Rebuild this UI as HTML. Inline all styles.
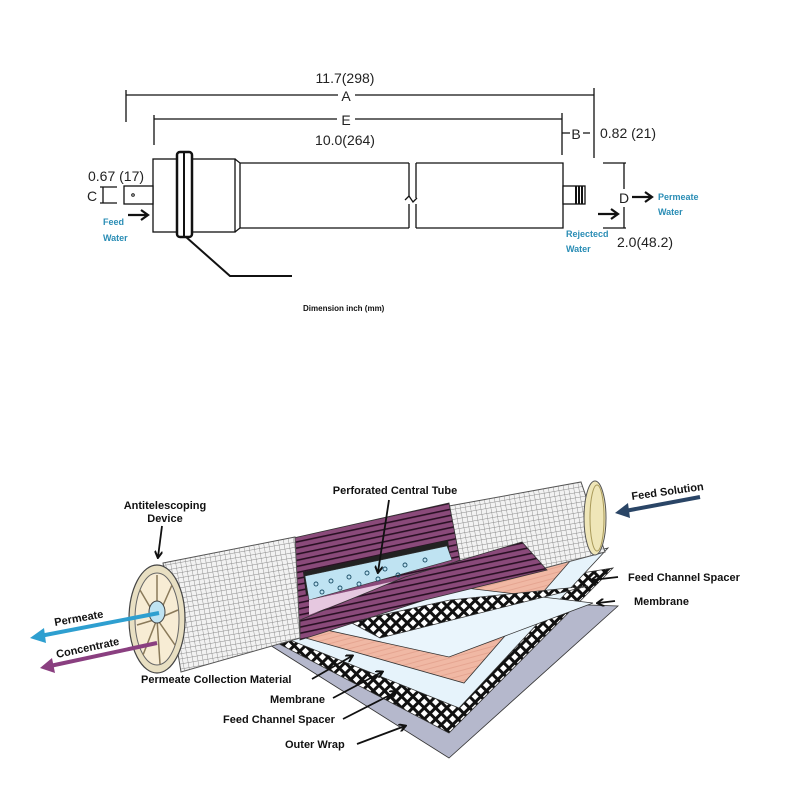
<!DOCTYPE html>
<html><head><meta charset="utf-8"><style>
html,body{margin:0;padding:0;background:#fff;}
svg{display:block;}
text{font-family:"Liberation Sans",sans-serif;}
.b{font-weight:bold;font-size:11px;fill:#111;}
.d{font-size:14px;fill:#222;}
.c{font-weight:bold;font-size:9px;fill:#2a8db5;}
</style></head><body>
<svg width="800" height="800" viewBox="0 0 800 800" xmlns="http://www.w3.org/2000/svg">
<defs>
<pattern id="grid" width="5" height="5" patternUnits="userSpaceOnUse" patternTransform="rotate(-10)">
<rect width="5" height="5" fill="#f2f2f2"/><path d="M0 0H5M0 0V5" stroke="#8a8a8a" stroke-width="0.9"/></pattern>
<pattern id="mesh" width="8" height="8" patternUnits="userSpaceOnUse" patternTransform="rotate(45)">
<rect width="8" height="8" fill="#111"/><rect x="2" y="2" width="5" height="5" fill="#fff"/></pattern>
<pattern id="purp" width="6" height="6" patternUnits="userSpaceOnUse" patternTransform="rotate(-12)">
<rect width="6" height="6" fill="#8a4a7a"/><rect y="3" width="6" height="1.6" fill="#2a1024"/></pattern>
<pattern id="pink" width="5" height="5" patternUnits="userSpaceOnUse" patternTransform="rotate(-15)">
<rect width="5" height="5" fill="#f0b8a4"/><path d="M0 2H5" stroke="#e3a08c" stroke-width="0.8"/></pattern>
<marker id="ah" markerWidth="8" markerHeight="8" refX="6" refY="4" orient="auto" markerUnits="userSpaceOnUse"><path d="M0 0L7 4L0 8" fill="none" stroke="#111" stroke-width="2"/></marker>
</defs>

<!-- ===== Top dimension drawing ===== -->
<g stroke="#111" stroke-width="1.3" fill="none">
<path d="M126 90V122M594 88V158M126 95H338M355 95H594"/>
<path d="M154 115V145M562 113V155M154 119H337M355 119H562"/>
<path d="M562 133H570M583 133H590"/>
<rect x="153" y="159" width="82" height="73" fill="#fff"/>
<path d="M235 159L240 163V228L235 232"/>
<path d="M240 163H409M240 228H409M409 163V196M409 204V228"/>
<path d="M405 200L409 196L413 202L417 198"/>
<path d="M416 163H563V228H416M416 163V198M416 204V228"/>
<rect x="177" y="152" width="15" height="85" rx="3" fill="#fff" stroke-width="2.5"/>
<path d="M184 152V237" stroke-width="2"/>
<path d="M186 237L230 276H292" stroke-width="2"/>
<rect x="124" y="186" width="29" height="18" fill="#fff"/>
<path d="M100 187H117M100 203H117M103 187V203"/>
<rect x="563" y="186" width="22" height="18" fill="#fff"/>
<path d="M576 186V204M579 186V204M582 186V204" stroke-width="2"/>
<path d="M603 163H626M603 228H626M624 163V189M624 207V228"/>
</g>
<circle cx="133" cy="195" r="1.3" fill="none" stroke="#111"/>
<g stroke="#111" stroke-width="2.2" fill="none">
<path d="M128 215H147M141 210L148 215L141 220"/>
<path d="M632 197H651M645 192L652 197L645 202"/>
<path d="M598 214H617M611 209L618 214L611 219"/>
</g>
<text class="d" x="345" y="83" text-anchor="middle">11.7(298)</text>
<text class="d" x="346" y="101" text-anchor="middle" font-size="15">A</text>
<text class="d" x="346" y="125" text-anchor="middle" font-size="15">E</text>
<text class="d" x="345" y="145" text-anchor="middle">10.0(264)</text>
<text class="d" x="576" y="139" text-anchor="middle" font-size="15">B</text>
<text class="d" x="600" y="138" font-size="13">0.82 (21)</text>
<text class="d" x="88" y="181" font-size="13">0.67 (17)</text>
<text class="d" x="87" y="201" font-size="15">C</text>
<text class="d" x="619" y="203" font-size="15">D</text>
<text class="d" x="617" y="247" font-size="13">2.0(48.2)</text>
<text class="c" x="103" y="225">Feed</text>
<text class="c" x="103" y="241">Water</text>
<text class="c" x="658" y="200">Permeate</text>
<text class="c" x="658" y="215">Water</text>
<text class="c" x="566" y="237">Rejectecd</text>
<text class="c" x="566" y="252">Water</text>
<text x="303" y="311" font-size="8" font-weight="bold" fill="#111">Dimension  inch (mm)</text>

<!-- ===== Bottom cutaway ===== -->
<g stroke="#333" stroke-width="0.8">
<polygon points="440,600 618,606 449,758 262,640" fill="#b5b8cc"/>
<polygon points="440,596 613,568 449,733 266,637" fill="url(#mesh)"/>
<polygon points="440,592 608,548 459,708 280,636" fill="#e6f3fb"/>
<polygon points="440,588 605,521 464,683 288,633" fill="url(#pink)"/>
<polygon points="440,585 593,603 449,657 313,627" fill="#eaf5fc"/>
<polygon points="450,600 588,586 380,638 350,622" fill="url(#mesh)"/>
</g>
<!-- right cylinder piece -->
<polygon points="449,506 581,482 605,552 530,572 455,560" fill="url(#grid)" stroke="#555" stroke-width="1"/>
<ellipse cx="595" cy="518" rx="11" ry="37" fill="#efe6b8" stroke="#555"/>
<ellipse cx="597" cy="518" rx="7" ry="33" fill="none" stroke="#a99a5a"/>
<!-- cut section -->
<polygon points="280,541 449,503 460,560 300,628" fill="url(#purp)" stroke="#333" stroke-width="0.8"/>
<polygon points="303,572 448,540 450,556 306,595" fill="#222"/>
<polygon points="305,576 447,546 452,560 309,600" fill="#bfe3f2" stroke="#333" stroke-width="0.6"/>
<polygon points="309,600 400,580 309,615" fill="#e6c8e0"/>
<g fill="none" stroke="#1a4d66" stroke-width="0.9">
<circle cx="316" cy="584" r="2"/><circle cx="331" cy="581" r="2"/><circle cx="349" cy="577" r="2"/><circle cx="367" cy="573" r="2"/><circle cx="385" cy="569" r="2"/><circle cx="405" cy="565" r="2"/><circle cx="425" cy="560" r="2"/>
<circle cx="322" cy="592" r="2"/><circle cx="340" cy="588" r="2"/><circle cx="359" cy="584" r="2"/><circle cx="378" cy="579" r="2"/><circle cx="398" cy="575" r="2"/>
</g>
<!-- flap -->
<polygon points="300,620 405,577 522,542 547,570 425,600 300,640" fill="url(#purp)" stroke="#333" stroke-width="0.8"/>
<!-- left cylinder piece -->
<polygon points="163,563 295,537 300,638 181,672" fill="url(#grid)" stroke="#555" stroke-width="1"/>
<!-- left end cap -->
<ellipse cx="157" cy="619" rx="28" ry="54" fill="#e8dfc2" stroke="#444" stroke-width="1.2"/>
<ellipse cx="157" cy="619" rx="22" ry="46" fill="#f7ecd4" stroke="#666"/>
<g stroke="#8a7a5a" stroke-width="1.5">
<path d="M157 619L157 575M157 619L172 585M157 619L178 610M157 619L175 645M157 619L160 664M157 619L143 655M157 619L137 625M157 619L140 590"/>
</g>
<ellipse cx="157" cy="612" rx="8" ry="11" fill="#bfe3f2" stroke="#444"/>
<!-- flow arrows -->
<g stroke-width="4" fill="none">
<path d="M159 613L40 636" stroke="#2e9fd0"/>
<path d="M157 643L50 666" stroke="#8a3f80"/>
<path d="M700 497L625 511" stroke="#2a4566"/>
</g>
<polygon points="30,638 44,628 46,643" fill="#2e9fd0"/>
<polygon points="40,668 52,658 55,673" fill="#8a3f80"/>
<polygon points="615,513 628,503 630,518" fill="#2a4566"/>
<g stroke="#111" stroke-width="1.8" fill="none" marker-end="url(#ah)">
<path d="M162 526L158 557"/>
<path d="M389 500L378 572"/>
<path d="M618 577L592 580"/>
<path d="M615 601L598 603"/>
<path d="M312 679L352 656"/>
<path d="M333 698L382 672"/>
<path d="M343 719L396 692"/>
<path d="M357 744L405 726"/>
</g>
<text class="b" x="165" y="509" text-anchor="middle">Antitelescoping</text>
<text class="b" x="165" y="522" text-anchor="middle">Device</text>
<text class="b" x="395" y="494" text-anchor="middle">Perforated Central Tube</text>
<text class="b" x="632" y="500" transform="rotate(-8 632 500)">Feed Solution</text>
<text class="b" x="628" y="581">Feed Channel Spacer</text>
<text class="b" x="634" y="605">Membrane</text>
<text class="b" x="55" y="626" transform="rotate(-10 55 626)">Permeate</text>
<text class="b" x="57" y="658" transform="rotate(-12 57 658)">Concentrate</text>
<text class="b" x="141" y="683">Permeate Collection Material</text>
<text class="b" x="270" y="703">Membrane</text>
<text class="b" x="223" y="723">Feed Channel Spacer</text>
<text class="b" x="285" y="748">Outer Wrap</text>
</svg>
</body></html>
